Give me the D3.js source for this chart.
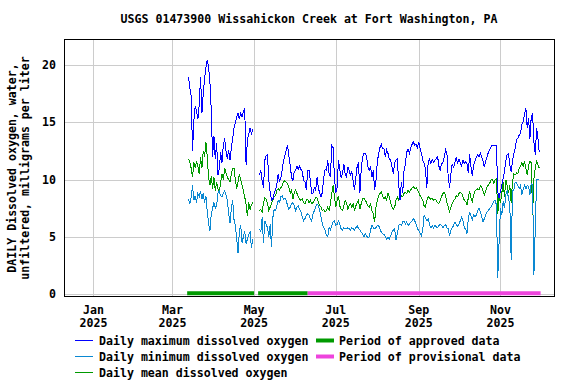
<!DOCTYPE html>
<html><head><meta charset="UTF-8">
<title>USGS 01473900 Dissolved oxygen</title>
<script src="https://d3js.org/d3.v7.min.js"></script>
<style>
  body { margin: 0; background: #fff; }
  text { font-family: "DejaVu Sans Mono", monospace; font-weight: bold; font-size: 11.6px; fill: #000; }
</style>
</head>
<body>
<svg width="576" height="384"></svg>
<script>
// spring record, daily values starting 2025-03-13
const start1 = "2025-03-13";
const dailyMax1 = [19.0,18.0,17.3,12.5,15.2,16.4,16.0,15.3,16.5,19.0, 15.8,17.5,18.8,19.8,20.5,19.8,18.5,16.0,12.0,13.8,
  11.8,13.2,10.4,11.0,12.4,11.5,13.0,13.6,12.5,11.8, 12.6,11.7,12.8,13.6,14.5,15.0,15.5,15.8,15.3,15.8,
  15.5,16.0,16.2,11.3,13.5,14.0,14.5,14.0,14.4];
const dailyMin1 = [8.3,7.9,8.5,9.5,8.2,8.6,8.0,8.8,8.5,9.0, 8.3,8.8,8.0,8.6,7.2,6.2,5.5,7.0,7.5,8.0,
  7.5,7.8,8.8,9.0,8.6,8.5,8.8,9.0,8.7,8.2, 7.0,6.2,7.5,8.2,6.5,6.0,4.8,3.6,5.5,6.0,
  4.5,5.0,5.5,4.4,4.8,5.2,5.4,4.0,4.8];
const dailyMean1 = [11.8,11.5,11.0,10.2,11.5,11.0,11.6,11.2,10.5,12.0, 11.0,12.5,12.0,13.3,12.0,10.2,9.5,10.3,9.2,10.2,
  9.0,9.8,9.2,8.8,9.8,10.5,10.0,11.0,10.6,10.2, 10.0,9.8,10.5,11.0,11.0,10.0,9.2,9.8,10.5,10.0,
  9.5,9.0,8.5,7.8,6.8,8.0,7.4,7.8,8.0];

// summer-autumn record, daily values starting 2025-05-05
const start2 = "2025-05-05";
const dailyMax2 = [10.4,10.8,9.9,9.3,11.7,12.1,12.2,9.9,8.9,8.2, 8.3,8.8,9.1,9.6,10.5,9.8,10.2,10.9,11.7,12.1,
  12.6,13.0,12.0,11.2,10.2,9.9,10.7,10.8,11.2,10.9, 11.2,10.9,10.7,9.9,9.8,9.1,10.8,10.8,9.9,8.8,
  8.8,9.3,9.1,10.2,9.3,8.8,8.5,8.9,10.2,10.9,
  10.8,11.7,10.5,10.2,13.0,12.8,10.2,8.8,9.3,11.7, 10.9,10.2,10.5,11.4,10.5,10.2,11.1,10.8,10.4,10.7,
  9.9,9.1,10.2,11.2,11.5,8.8,10.9,12.0,12.3,12.3, 12.0,11.1,10.8,11.2,10.2,10.8,9.1,9.9,11.5,12.3,
  12.8,13.1,12.7,12.7,12.0,12.6,12.3,11.8,11.7,11.1, 10.5,11.5,
  11.7,11.8,9.6,8.2,9.8,8.8,10.8,11.4,12.4,12.7, 12.3,12.8,13.1,13.3,13.0,13.1,12.8,13.3,12.7,12.3,
  11.7,11.4,10.9,9.3,11.5,11.8,11.4,11.8,11.5,11.7, 11.8,12.1,11.2,10.8,11.4,11.5,12.0,12.6,12.3,10.2,
  9.3,10.5,11.4,11.1,11.5,12.0,11.4,11.8,11.5,11.2, 11.7,11.4,
  11.6,11.4,10.6,12.2,11.1,10.3,11.3,11.6,12.0,12.2, 12.0,12.3,12.0,11.6,11.1,11.6,12.0,12.4,12.6,12.9,
  13.0,13.0,13.0,13.0,8.9,8.4,9.0,9.5,10.1,10.7, 11.6,12.2,12.3,11.3,10.7,11.6,12.3,12.7,13.5,13.6,
  13.9,14.1,14.8,15.1,15.7,16.3,14.5,15.4,13.6,15.5, 15.8,13.3,12.2,14.5,13.6,12.4];
const dailyMin2 = [5.7,5.4,6.7,4.5,6.4,6.1,5.8,5.0,6.1,4.1, 6.7,7.4,7.3,7.7,8.2,8.0,8.5,8.6,8.3,8.4,
  8.2,7.7,7.4,7.6,7.9,8.0,7.7,7.3,7.6,7.7, 7.4,7.2,6.7,6.4,6.6,6.9,7.0,6.9,6.6,6.4,
  7.0,7.3,7.6,7.9,7.7,7.3,6.7,6.1,5.8,5.6,
  5.1,5.0,5.8,5.6,6.0,6.3,6.4,6.0,6.1,6.4, 6.1,5.7,5.6,5.8,5.7,5.7,5.8,5.7,5.6,5.8,
  5.7,5.6,5.8,6.0,5.7,5.6,5.4,5.3,5.0,5.3, 5.1,4.9,5.0,5.6,6.0,5.8,5.7,5.8,6.0,6.0,
  5.7,5.4,5.3,5.2,5.0,4.8,5.0,4.8,5.1,5.4, 5.6,5.7,
  4.7,5.3,6.0,6.1,6.0,6.3,6.4,6.1,6.3,6.0, 6.1,6.3,6.4,6.6,6.4,6.1,5.7,5.6,5.3,5.1,
  5.7,6.9,6.7,6.4,6.6,6.1,5.8,6.0,5.8,6.0, 5.9,5.8,6.0,6.1,6.0,5.8,6.0,6.1,5.8,5.7,
  5.1,5.6,5.8,6.0,6.3,6.1,5.9,6.1,6.4,6.7, 6.4,5.8,
  5.7,5.3,6.6,7.2,6.8,6.5,6.9,6.8,6.9,7.3, 7.5,7.2,6.8,6.3,6.6,6.9,7.2,7.3,7.5,7.6,
  7.9,8.1,8.2,7.8,1.4,4.6,7.5,6.9,8.1,7.5, 8.7,9.0,8.4,7.8,3.0,9.0,9.1,9.8,9.7,9.5,
  9.2,9.5,8.7,9.2,9.5,9.2,9.5,9.4,8.7,9.7, 9.5,1.7,5.7,10.0,10.0,10.0];
const dailyMean2 = [7.3,7.4,7.2,8.0,8.4,8.3,7.9,7.3,7.6,7.9, 8.2,8.5,8.6,9.1,9.2,9.1,9.3,9.5,9.8,9.9,
  9.8,9.6,9.3,8.8,9.1,8.3,8.9,9.1,8.8,8.5, 8.3,8.2,8.3,8.0,7.9,8.2,8.3,8.0,8.2,7.9,
  8.0,8.2,8.4,8.4,8.0,7.7,7.6,7.3,7.4,7.2,
  7.3,7.6,7.3,7.9,8.8,9.5,8.5,7.6,8.2,8.6, 7.7,7.4,7.3,7.7,8.2,8.0,7.4,7.7,7.9,7.6,
  7.9,7.3,7.7,8.0,8.2,7.4,7.9,8.3,8.4,8.2, 8.0,7.7,7.6,7.9,7.3,7.0,6.3,7.6,8.2,8.6,
  8.8,8.9,8.6,8.3,8.5,8.2,8.8,8.5,8.0,7.6, 7.4,7.6,
  8.2,8.5,8.2,8.3,8.6,8.5,8.8,8.9,8.8,9.1, 8.9,9.1,9.3,9.4,9.2,9.3,9.1,8.9,8.6,8.4,
  8.2,7.7,7.6,8.2,8.5,8.4,8.3,8.4,8.2,8.3, 8.2,8.0,7.9,8.2,8.5,8.8,8.9,8.6,8.0,7.6,
  7.2,7.6,7.9,8.2,8.3,8.6,8.5,8.8,8.9,8.8, 8.5,8.2,
  8.1,7.8,8.4,9.0,8.4,8.1,8.7,9.0,9.1,9.2, 9.1,9.5,9.4,9.0,8.7,9.0,9.4,9.5,9.7,10.0,
  10.0,9.7,10.0,10.1,7.0,8.5,8.0,8.8,9.8,8.5, 10.0,9.5,8.8,9.5,8.0,9.8,10.5,10.4,10.6,10.5,
  11.0,11.2,11.5,11.2,11.6,11.0,10.4,11.2,11.6,11.5, 6.9,10.1,11.0,11.7,11.3,11.0];

const approvedPeriods = [["2025-03-12", "2025-05-01"], ["2025-05-04", "2025-06-10"]];
const provisionalPeriods = [["2025-06-10", "2025-12-01"]];

const yTicks = [0, 5, 10, 15, 20];
const monthTicks = ["2025-01-01", "2025-03-01", "2025-05-01", "2025-07-01", "2025-09-01", "2025-11-01"];

const seriesInfo = [
  {name: "Daily maximum dissolved oxygen", color: "#0000ff", key: "max"},
  {name: "Daily minimum dissolved oxygen", color: "#0a88d2", key: "min"},
  {name: "Daily mean dissolved oxygen", color: "#009a00", key: "mean"}
];
const periodInfo = [
  {name: "Period of approved data", color: "#009a00"},
  {name: "Period of provisional data", color: "#ee44dd"}
];

const parse = d3.utcParse("%Y-%m-%d");
const margin = {top: 39, right: 22, bottom: 88, left: 64};
const width = 576, height = 384;

const svg = d3.select("svg");

const x = d3.scaleUtc()
  .domain([parse("2024-12-10"), parse("2025-12-11")])
  .range([margin.left, width - margin.right]);
const y = d3.scaleLinear()
  .domain([-0.17, 22.3])
  .range([height - margin.bottom, margin.top]);

function toPoints(start, vals) {
  const s = parse(start);
  return vals.map((v, i) => ({date: d3.utcDay.offset(s, i), value: v}));
}
const segments = {
  max: [toPoints(start1, dailyMax1), toPoints(start2, dailyMax2)],
  min: [toPoints(start1, dailyMin1), toPoints(start2, dailyMin2)],
  mean: [toPoints(start1, dailyMean1), toPoints(start2, dailyMean2)]
};

// grid
svg.append("g").selectAll("line")
  .data(yTicks)
  .join("line")
    .attr("x1", margin.left).attr("x2", width - margin.right)
    .attr("y1", d => Math.round(y(d)) + 0.5).attr("y2", d => Math.round(y(d)) + 0.5)
    .attr("stroke", "#cccccc");
svg.append("g").selectAll("line")
  .data(monthTicks)
  .join("line")
    .attr("x1", d => Math.round(x(parse(d))) + 0.5).attr("x2", d => Math.round(x(parse(d))) + 0.5)
    .attr("y1", margin.top).attr("y2", height - margin.bottom)
    .attr("stroke", "#cccccc");

// data lines
const line = d3.line().x(d => x(d.date)).y(d => y(d.value));
["mean", "min", "max"].forEach(k => {
  const info = seriesInfo.find(s => s.key === k);
  svg.append("g").selectAll("path")
    .data(segments[k])
    .join("path")
      .attr("d", line)
      .attr("fill", "none")
      .attr("stroke", info.color)
      .attr("stroke-width", 1)
      .attr("shape-rendering", "crispEdges");
});

// period bars
const barY = y(0) - 0.7;
svg.append("g").selectAll("line")
  .data(approvedPeriods.map(p => ({p, c: periodInfo[0].color}))
    .concat(provisionalPeriods.map(p => ({p, c: periodInfo[1].color}))))
  .join("line")
    .attr("x1", d => x(parse(d.p[0]))).attr("x2", d => x(parse(d.p[1])))
    .attr("y1", barY).attr("y2", barY)
    .attr("stroke", d => d.c)
    .attr("stroke-width", 4);

// frame
svg.append("rect")
  .attr("x", margin.left + 0.5).attr("y", margin.top + 0.5)
  .attr("width", width - margin.left - margin.right)
  .attr("height", height - margin.top - margin.bottom)
  .attr("fill", "none").attr("stroke", "#000");

// y tick labels
svg.append("g").selectAll("text")
  .data(yTicks)
  .join("text")
    .attr("x", margin.left - 8)
    .attr("y", d => y(d) + 4)
    .attr("text-anchor", "end")
    .text(d => d);

// x tick labels
const fmtMonth = d3.utcFormat("%b"), fmtYear = d3.utcFormat("%Y");
const xl = svg.append("g").selectAll("text")
  .data(monthTicks)
  .join("text")
    .attr("text-anchor", "middle");
xl.append("tspan").attr("x", d => x(parse(d))).attr("y", 314).text(d => fmtMonth(parse(d)));
xl.append("tspan").attr("x", d => x(parse(d))).attr("y", 327).text(d => fmtYear(parse(d)));

// title
svg.append("text")
  .attr("x", 309).attr("y", 23)
  .attr("text-anchor", "middle")
  .text("USGS 01473900 Wissahickon Creek at Fort Washington, PA");

// y axis title
const yt = svg.append("text")
  .attr("transform", "translate(16,168) rotate(-90)")
  .attr("text-anchor", "middle");
yt.append("tspan").attr("x", 0).attr("y", 0).text("DAILY Dissolved oxygen, water,");
yt.append("tspan").attr("x", 0).attr("y", 13).text("unfiltered, milligrams per liter");

// legend
const leg1 = svg.append("g").selectAll("g")
  .data(seriesInfo)
  .join("g")
    .attr("transform", (d, i) => `translate(75,${340.5 + i * 16})`);
leg1.append("line").attr("x1", 0).attr("x2", 18).attr("stroke", d => d.color);
leg1.append("text").attr("x", 24).attr("y", 4.5).text(d => d.name);

const leg2 = svg.append("g").selectAll("g")
  .data(periodInfo)
  .join("g")
    .attr("transform", (d, i) => `translate(316,${340.5 + i * 16})`);
leg2.append("line").attr("x1", 0).attr("x2", 18).attr("stroke", d => d.color).attr("stroke-width", 4);
leg2.append("text").attr("x", 23).attr("y", 4.5).text(d => d.name);
</script>
</body></html>
